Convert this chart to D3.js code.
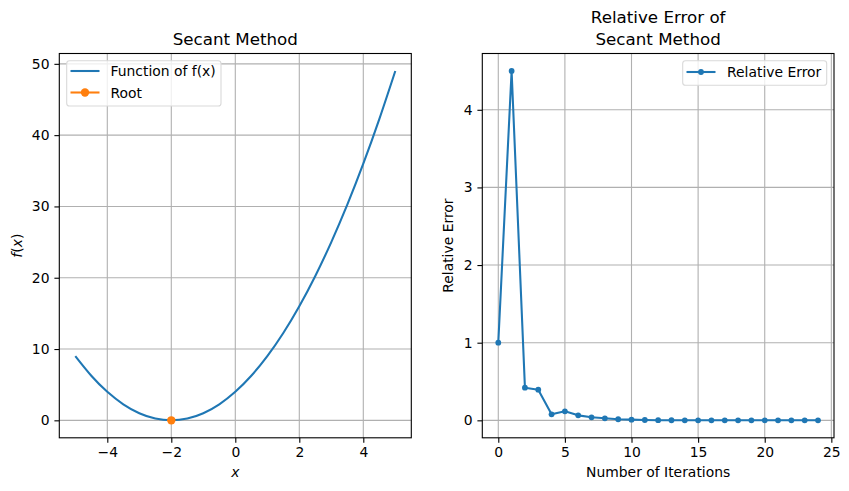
<!DOCTYPE html>
<html>
<head>
<meta charset="utf-8">
<script src="https://cdn.jsdelivr.net/npm/d3@7"></script>
<style>
  body { margin: 0; background: #fff; }
  svg text { font-family: "DejaVu Sans", sans-serif; fill: #000; }
</style>
</head>
<body>
<div id="chart"></div>
<script>
let fx = [-5, -4.5, -4, -3.5, -3, -2.5, -2, -1.5, -1, -0.5, 0, 0.5, 1, 1.5, 2, 2.5, 3, 3.5, 4, 4.5, 5]
let fy = [9, 6.25, 4, 2.25, 1, 0.25, 0, 0.25, 1, 2.25, 4, 6.25, 9, 12.25, 16, 20.25, 25, 30.25, 36, 42.25, 49]
let rootX = [-2]
let rootY = [0]
let leftXTicks = [-4, -2, 0, 2, 4]
let leftYTicks = [0, 10, 20, 30, 40, 50]

// relative error per iteration
let iterations = d3.range(0, 25)
let relError = [1.0, 4.5, 0.42, 0.395, 0.077, 0.116, 0.064, 0.039, 0.026, 0.014, 0.009, 0.004, 0.002, 0.001,
    0.0005, 0.0002, 0.0001, 0, 0, 0, 0, 0, 0, 0, 0]
let rightXTicks = [0, 5, 10, 15, 20, 25]
let rightYTicks = [0, 1, 2, 3, 4]

const blue = "#1f77b4", orange = "#ff7f0e"

let svg = d3.select("#chart").append("svg")
    .attr("width", 849)
    .attr("height", 491)

function panel(box, xDomain, yDomain, xTicks, yTicks) {
    let x = d3.scaleLinear().domain(xDomain).range([box.left, box.right])
    let y = d3.scaleLinear().domain(yDomain).range([box.bottom, box.top])
    let g = svg.append("g")
    let fmt = d => d < 0 ? "\u2212" + Math.abs(d) : String(d)

    // grid
    g.append("g").selectAll("line").data(xTicks.filter(t => t >= xDomain[0] && t <= xDomain[1])).enter()
        .append("line")
        .attr("x1", d => x(d)).attr("x2", d => x(d))
        .attr("y1", box.top).attr("y2", box.bottom)
        .style("stroke", "#b0b0b0").style("stroke-width", 1.1)
    g.append("g").selectAll("line").data(yTicks.filter(t => t >= yDomain[0] && t <= yDomain[1])).enter()
        .append("line")
        .attr("y1", d => y(d)).attr("y2", d => y(d))
        .attr("x1", box.left).attr("x2", box.right)
        .style("stroke", "#b0b0b0").style("stroke-width", 1.1)

    let xAxis = g.append("g")
        .attr("transform", `translate(0, ${box.bottom})`)
        .call(d3.axisBottom(x).tickValues(xTicks).tickSize(4.9).tickPadding(4.9).tickFormat(fmt))
    let yAxis = g.append("g")
        .attr("transform", `translate(${box.left}, 0)`)
        .call(d3.axisLeft(y).tickValues(yTicks).tickSize(4.9).tickPadding(4.9).tickFormat(fmt))
    for (let a of [xAxis, yAxis]) {
        a.select(".domain").remove()
        a.selectAll("text").style("font-size", "13.9px").style("font-family", "DejaVu Sans")
        a.selectAll("line").style("stroke-width", 1.1)
    }

    g.append("rect")
        .attr("x", box.left).attr("y", box.top)
        .attr("width", box.right - box.left).attr("height", box.bottom - box.top)
        .style("fill", "none").style("stroke", "#000").style("stroke-width", 1.1)

    return {x: x, y: y, g: g}
}

// ---------- left panel ----------
let L = {left: 59.3, right: 411.3, top: 53.5, bottom: 437.8}
let p1 = panel(L, [-5.5, 5.5], [-2.45, 51.45], leftXTicks, leftYTicks)

p1.g.append("path")
    .datum(fx.map((v, i) => [v, fy[i]]))
    .attr("d", d3.line().x(d => p1.x(d[0])).y(d => p1.y(d[1])).curve(d3.curveNatural))
    .style("fill", "none").style("stroke", blue).style("stroke-width", 2.08)

p1.g.selectAll(".root").data(rootX).enter()
    .append("circle")
    .attr("cx", d => p1.x(d)).attr("cy", (d, i) => p1.y(rootY[i]))
    .attr("r", 4.2).style("fill", orange)

svg.append("text")
    .attr("x", (L.left + L.right) / 2).attr("y", 45)
    .style("text-anchor", "middle").style("font-size", "16.7px")
    .text("Secant Method")

svg.append("text")
    .attr("x", (L.left + L.right) / 2).attr("y", 477)
    .style("text-anchor", "middle").style("font-size", "13.9px").style("font-style", "italic")
    .text("x")

svg.append("text")
    .attr("transform", `translate(22, ${(L.top + L.bottom) / 2}) rotate(-90)`)
    .style("text-anchor", "middle").style("font-size", "13.9px")
    .html('<tspan font-style="italic">f</tspan>(<tspan font-style="italic">x</tspan>)')

// left legend
let leg1 = svg.append("g")
leg1.append("rect")
    .attr("x", 66.7).attr("y", 60.7).attr("width", 154.3).attr("height", 45.3).attr("rx", 2.8)
    .style("fill", "#fff").style("fill-opacity", 0.8).style("stroke", "#d9d9d9").style("stroke-width", 1.1)
leg1.append("line").attr("x1", 70.5).attr("x2", 99.5).attr("y1", 71).attr("y2", 71)
    .style("stroke", blue).style("stroke-width", 2.08)
leg1.append("text").attr("x", 110.5).attr("y", 76).style("font-size", "13.9px").text("Function of f(x)")
leg1.append("line").attr("x1", 70.5).attr("x2", 99.5).attr("y1", 92.5).attr("y2", 92.5)
    .style("stroke", orange).style("stroke-width", 2.08)
leg1.append("circle").attr("cx", 85).attr("cy", 92.5).attr("r", 4.2).style("fill", orange)
leg1.append("text").attr("x", 110.5).attr("y", 97.5).style("font-size", "13.9px").text("Root")

// ---------- right panel ----------
let R = {left: 482.3, right: 834, top: 53.5, bottom: 437.8}
let p2 = panel(R, [-1.2, 25.2], [-0.225, 4.725], rightXTicks, rightYTicks)

p2.g.append("path")
    .datum(iterations.map((v, i) => [v, relError[i]]))
    .attr("d", d3.line().x(d => p2.x(d[0])).y(d => p2.y(d[1])))
    .style("fill", "none").style("stroke", blue).style("stroke-width", 2.08).style("stroke-linejoin", "round")

p2.g.selectAll(".pt").data(iterations).enter()
    .append("circle")
    .attr("cx", d => p2.x(d)).attr("cy", (d, i) => p2.y(relError[i]))
    .attr("r", 2.9).style("fill", blue)

svg.append("text")
    .attr("x", (R.left + R.right) / 2).attr("y", 23)
    .style("text-anchor", "middle").style("font-size", "16.7px")
    .text("Relative Error of")
svg.append("text")
    .attr("x", (R.left + R.right) / 2).attr("y", 45)
    .style("text-anchor", "middle").style("font-size", "16.7px")
    .text("Secant Method")

svg.append("text")
    .attr("x", (R.left + R.right) / 2).attr("y", 477)
    .style("text-anchor", "middle").style("font-size", "13.9px")
    .text("Number of Iterations")

svg.append("text")
    .attr("transform", `translate(453, ${(R.top + R.bottom) / 2}) rotate(-90)`)
    .style("text-anchor", "middle").style("font-size", "13.9px")
    .text("Relative Error")

// right legend
let leg2 = svg.append("g")
leg2.append("rect")
    .attr("x", 682.7).attr("y", 60.7).attr("width", 144).attr("height", 24.5).attr("rx", 2.8)
    .style("fill", "#fff").style("fill-opacity", 0.8).style("stroke", "#d9d9d9").style("stroke-width", 1.1)
leg2.append("line").attr("x1", 686.5).attr("x2", 715.5).attr("y1", 72).attr("y2", 72)
    .style("stroke", blue).style("stroke-width", 2.08)
leg2.append("circle").attr("cx", 701).attr("cy", 72).attr("r", 2.9).style("fill", blue)
leg2.append("text").attr("x", 727).attr("y", 77).style("font-size", "13.9px").text("Relative Error")
</script>
</body>
</html>
